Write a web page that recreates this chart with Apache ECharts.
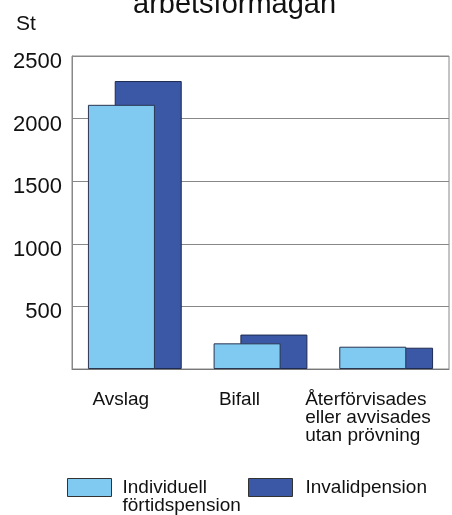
<!DOCTYPE html>
<html>
<head>
<meta charset="utf-8">
<script src="https://cdn.jsdelivr.net/npm/echarts@6/dist/echarts.min.js"></script>
<style>
  html, body { margin: 0; padding: 0; background: #fff; }
  #chart { width: 452px; height: 515px; }
</style>
</head>
<body>
<div id="chart"></div>
<script>
// data
const categories = ["Avslag", "Bifall", "Återförvisades\neller avvisades\nutan prövning"];
const individuell = [2110, 205, 178];
const invalid = [2300, 275, 170];
const yTicks = [0, 500, 1000, 1500, 2000, 2500];
const seriesNames = ["Individuell\nförtidspension", "Invalidpension"];

const FONT = "Liberation Sans";
const lightBlue = "#80c9f0";
const darkBlue = "#3b58a6";

const chart = echarts.init(document.getElementById("chart"));

// label offsets so each category label sits like in the print
const labelPad = [28, 42, 34];

const legendBase = {
  padding: 0,
  itemWidth: 44,
  itemHeight: 18,
  icon: "rect",
  textStyle: { fontSize: 19, lineHeight: 18, color: "#111", fontFamily: FONT },
  itemStyle: { borderColor: "#333", borderWidth: 1 },
};

const option = {
  animation: false,
  textStyle: { fontFamily: FONT },
  title: [
    {
      text: "arbetsförmågan",
      left: 128,
      top: -15,
      textStyle: { fontSize: 29, fontWeight: "normal", color: "#111", fontFamily: FONT },
    },
    {
      text: "St",
      left: 11,
      top: 9,
      textStyle: { fontSize: 21, fontWeight: "normal", color: "#111", fontFamily: FONT },
    },
  ],
  legend: [
    {
      ...legendBase,
      left: 67,
      top: 460,
      data: [{ name: seriesNames[0], textStyle: { padding: [0, 0, 0, 6] } }],
      // empty first line so "Individuell" lines up with the box
      formatter: (n) => " \n" + n,
    },
    {
      ...legendBase,
      left: 248,
      top: 478,
      data: [{ name: seriesNames[1], textStyle: { padding: [0, 0, 0, 8] } }],
    },
  ],
  grid: {
    left: 72,
    right: 3,
    top: 56,
    bottom: 146,
    outerBoundsMode: "none",
    show: true,
    borderColor: "#888",
    borderWidth: 1,
  },
  xAxis: {
    type: "category",
    data: categories.map((c, i) => ({
      value: c,
      textStyle: { padding: [0, labelPad[i], 0, 0] },
    })),
    axisTick: { show: false },
    axisLine: { lineStyle: { color: "#777", width: 1 } },
    axisLabel: {
      interval: 0,
      margin: 22,
      fontSize: 19,
      lineHeight: 18,
      color: "#111",
      fontFamily: FONT,
      hideOverlap: false,
      formatter: (v) =>
        v.indexOf("\n") >= 0
          ? v.split("\n").map((l) => "{l|" + l + "}").join("\n")
          : v,
      rich: {
        l: { width: 128, align: "left", fontSize: 19, lineHeight: 18, color: "#111", fontFamily: FONT },
      },
    },
  },
  yAxis: {
    type: "value",
    min: yTicks[0],
    max: yTicks[yTicks.length - 1],
    interval: 500,
    axisLine: { show: true, lineStyle: { color: "#888" } },
    axisTick: { show: false },
    splitLine: { lineStyle: { color: "#888", width: 1 } },
    axisLabel: {
      margin: 10,
      fontSize: 22,
      color: "#111",
      fontFamily: FONT,
      verticalAlign: "top",
      lineHeight: 12,
      formatter: (v) => (v === 0 ? "" : String(v)),
    },
  },
  series: [
    {
      name: seriesNames[0],
      type: "bar",
      data: individuell,
      barWidth: 67,
      barGap: "-60%",
      z: 3,
      itemStyle: { color: lightBlue, borderColor: "#2a3550", borderWidth: 1 },
    },
    {
      name: seriesNames[1],
      type: "bar",
      data: invalid,
      barWidth: 67,
      barGap: "-60%",
      z: 2,
      itemStyle: { color: darkBlue, borderColor: "#1e2a50", borderWidth: 1 },
    },
  ],
};

chart.setOption(option);
</script>
</body>
</html>
